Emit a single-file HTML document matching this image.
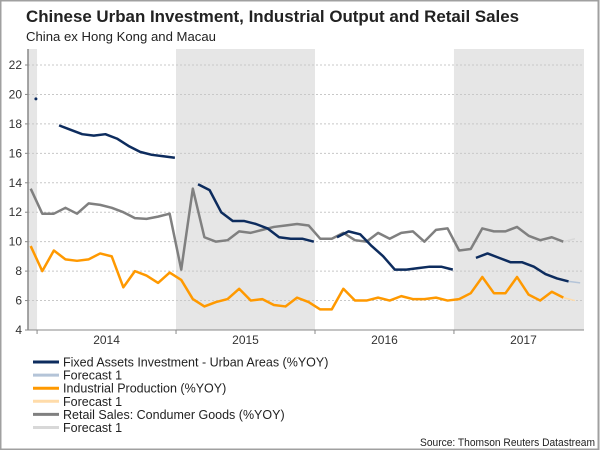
<!DOCTYPE html>
<html><head><meta charset="utf-8"><style>
body{margin:0;background:#fff;}
#wrap{position:relative;width:600px;height:450px;overflow:hidden;font-family:"Liberation Sans",sans-serif;}
</style></head><body>
<div id="wrap">
<svg id="chart" width="600" height="450" xmlns="http://www.w3.org/2000/svg">
<rect x="0.5" y="0.5" width="598" height="449" fill="#fff" stroke="#a0a0a0" stroke-width="2"/>
<text x="26" y="22" font-size="17" font-weight="bold" fill="#222" textLength="493" lengthAdjust="spacingAndGlyphs" font-family="Liberation Sans, sans-serif">Chinese Urban Investment, Industrial Output and Retail Sales</text>
<text x="26" y="41" font-size="13" fill="#222" textLength="190" lengthAdjust="spacingAndGlyphs" font-family="Liberation Sans, sans-serif">China ex Hong Kong and Macau</text>
<g id="bands"></g><g id="grid"></g><g id="axes"></g><g id="series"></g><g id="legend"></g>
<text x="595" y="446" font-size="11" fill="#222" text-anchor="end" textLength="175" lengthAdjust="spacingAndGlyphs" font-family="Liberation Sans, sans-serif">Source: Thomson Reuters Datastream</text>
</svg>
</div>
<script>
// Data (monthly index 0 = Dec 2013)
const yTicks = [4,6,8,10,12,14,16,18,20,22];
const years = ["2014","2015","2016","2017"];
const fai = [19.7,null,17.9,17.6,17.3,17.2,17.3,17.0,16.5,16.1,15.9,15.8,15.7,null,13.9,13.5,12.0,11.4,11.4,11.2,10.9,10.3,10.2,10.2,10.0,null,10.3,10.7,10.5,9.7,9.0,8.1,8.1,8.2,8.3,8.3,8.1,null,8.9,9.2,8.9,8.6,8.6,8.3,7.8,7.5,7.3];
const faiForecast = [7.3,7.2];
const ip = [9.7,8.0,9.4,8.8,8.7,8.8,9.2,9.0,6.9,8.0,7.7,7.2,7.9,7.4,6.1,5.6,5.9,6.1,6.8,6.0,6.1,5.7,5.6,6.2,5.9,5.4,5.4,6.8,6.0,6.0,6.2,6.0,6.3,6.1,6.1,6.2,6.0,6.1,6.5,7.6,6.5,6.5,7.6,6.4,6.0,6.6,6.2];
const ipForecast = [6.2,6.0];
const retail = [13.6,11.9,11.9,12.3,11.9,12.6,12.5,12.3,12.0,11.6,11.55,11.7,11.9,8.1,13.6,10.3,10.0,10.1,10.7,10.6,10.8,11.0,11.1,11.2,11.1,10.2,10.2,10.6,10.1,10.0,10.6,10.2,10.6,10.7,10.0,10.8,10.9,9.4,9.5,10.9,10.7,10.7,11.0,10.4,10.1,10.3,10.0];
const retailForecast = [10.0,10.2];

const NS="http://www.w3.org/2000/svg";
const X0=30.7, DX=11.58, PL=28, PR=584, PT=49, PB=330;
const xs = i => X0 + i*DX;
const ys = v => PB - (v-4)*(PB-65)/18;
function mk(tag, attrs, parent){const e=document.createElementNS(NS,tag);for(const k in attrs)e.setAttribute(k,attrs[k]);parent.appendChild(e);return e;}
const bands=document.getElementById('bands'),grid=document.getElementById('grid'),axes=document.getElementById('axes'),series=document.getElementById('series'),legend=document.getElementById('legend');
const yb = k => xs(0.55 + 12*k);
[[PL, yb(0)],[yb(1),yb(2)],[yb(3),PR]].forEach((b,i)=>{
  const r=mk('rect',{x:b[0],y:PT,width:b[1]-b[0],height:PB-PT,fill:'#e6e6e6'},bands);
  
  
});
yTicks.forEach(t=>{
  if(t>4){const l=mk('line',{x1:PL,x2:PR,y1:ys(t),y2:ys(t),stroke:'#c8c8c8','stroke-dasharray':'2,2','stroke-width':1},grid);
  
  }
  const tx=mk('text',{x:22,y:ys(t)+4,'font-size':12,fill:'#333','text-anchor':'end','font-family':'Liberation Sans, sans-serif'},axes);
  tx.textContent=t;
  
  
  const tk=mk('line',{x1:PL-3,x2:PL,y1:ys(t),y2:ys(t),stroke:'#888'},axes);
  
  
});
const ya=mk('line',{x1:PL,x2:PL,y1:PT,y2:PB,stroke:'#888','stroke-width':1.5},axes);


const xa=mk('line',{x1:PL,x2:PR,y1:PB,y2:PB,stroke:'#888'},axes);


years.forEach((y,k)=>{
  const tk=mk('line',{x1:yb(k),x2:yb(k),y1:PB,y2:PB+4,stroke:'#888'},axes);
  
  
  const tx=mk('text',{x:(yb(k)+yb(k+1))/2,y:344,'font-size':12,fill:'#333','text-anchor':'middle','font-family':'Liberation Sans, sans-serif'},axes);
  tx.textContent=y;
  
  
});
function draw(vals, start, shift, color, w, name){
  let segs=[],cur=[];
  vals.forEach((v,i)=>{if(v==null){if(cur.length)segs.push(cur);cur=[];}else cur.push([xs(start+i+shift),ys(v)]);});
  if(cur.length)segs.push(cur);
  segs.forEach(s=>{
    if(s.length===1){const c=mk('circle',{cx:s[0][0],cy:s[0][1],r:1.5,fill:color},series);
      
      return;}
    const p=mk('polyline',{points:s.map(q=>q.join(',')).join(' '),fill:'none',stroke:color,'stroke-width':w,'stroke-linejoin':'round'},series);
    
    
  });
}
draw(retail,0,0,'#808080',2.5,'retail-sales-line');
draw(retailForecast,46,0,'#d8d8d8',1.5,'retail-forecast-line');
draw(ip,0,0,'#ff9900',2.5,'industrial-production-line');
draw(ipForecast,46,0,'#ffdcaa',1.5,'ip-forecast-line');
draw(fai,0,0.45,'#0d2c5e',2.5,'fai-line');
draw(faiForecast,46,0.45,'#b4c4d8',1.5,'fai-forecast-line');
const leg=[['#0d2c5e','Fixed Assets Investment - Urban Areas (%YOY)'],['#b4c4d8','Forecast 1'],['#ff9900','Industrial Production (%YOY)'],['#ffdcaa','Forecast 1'],['#808080','Retail Sales: Condumer Goods (%YOY)'],['#d8d8d8','Forecast 1']];
leg.forEach((l,i)=>{
  const y=362+i*13.1;
  const ln=mk('line',{x1:33,x2:59,y1:y,y2:y,stroke:l[0],'stroke-width':3},legend);
  
  
  const t=mk('text',{x:63,y:y+4.5,'font-size':12.5,fill:'#222','font-family':'Liberation Sans, sans-serif'},legend);
  t.textContent=l[1];
  
  
});
</script>
</body></html>
